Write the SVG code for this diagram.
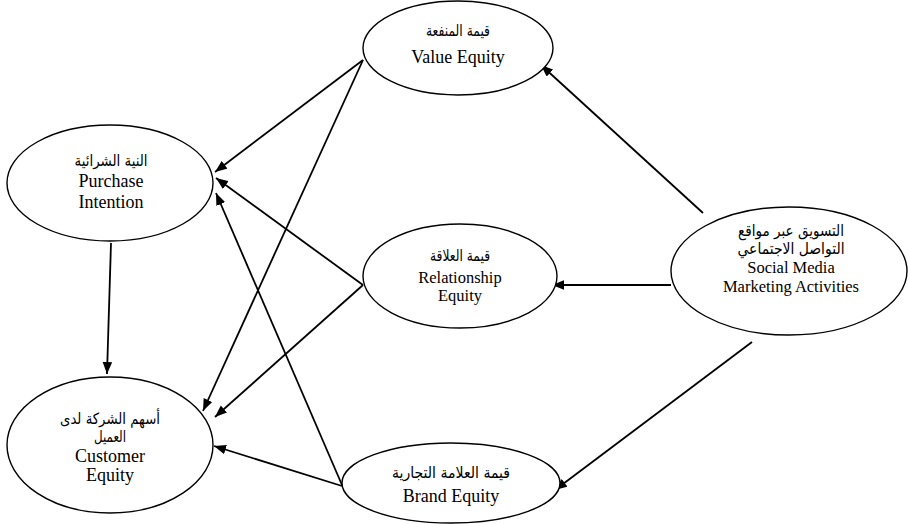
<svg xmlns="http://www.w3.org/2000/svg" width="909" height="524" viewBox="0 0 909 524">
<style>
.node ellipse{fill:#fff;stroke:#000;stroke-width:1.4}
text{font-family:"Liberation Serif","DejaVu Serif","DejaVu Sans",serif;fill:#000;text-anchor:middle}
.en{font-size:18px}
.ens{font-size:16.5px}
.ar{font-size:15.5px;font-family:"DejaVu Sans","Liberation Serif",sans-serif}
.edge{stroke:#000;stroke-width:1.8;fill:none;marker-end:url(#ah)}
</style>
<defs>
<marker id="ah" markerUnits="userSpaceOnUse" markerWidth="13" markerHeight="10" refX="12" refY="4.75" orient="auto">
<path d="M0,0 L12,4.75 L0,9.5 z" fill="#000"/>
</marker>
</defs>
<rect width="909" height="524" fill="#fff"/>
<g id="connectors">
<line class="edge" x1="363" y1="60" x2="215" y2="172"/>
<line class="edge" x1="363" y1="60" x2="203" y2="411"/>
<line class="edge" x1="363" y1="285" x2="216" y2="178"/>
<line class="edge" x1="363" y1="285" x2="215" y2="417"/>
<line class="edge" x1="342" y1="485" x2="216" y2="193"/>
<line class="edge" x1="342" y1="486" x2="214" y2="446"/>
<line class="edge" x1="111" y1="243" x2="107" y2="374"/>
<line class="edge" x1="703" y1="213" x2="541" y2="65"/>
<line class="edge" x1="671" y1="285" x2="552" y2="285"/>
<line class="edge" x1="752" y1="342" x2="555" y2="490"/>
</g>
<g id="value-equity" class="node">
<ellipse cx="458" cy="48" rx="95" ry="47"/>
<text class="ar" x="458" y="36" direction="rtl" textLength="64" lengthAdjust="spacingAndGlyphs">قيمة المنفعة</text>
<text class="en" x="458" y="63">Value Equity</text>
</g>
<g id="purchase-intention" class="node">
<ellipse cx="110" cy="183" rx="103" ry="58"/>
<text class="ar" x="111" y="166" direction="rtl" textLength="73" lengthAdjust="spacingAndGlyphs">النية الشرائية</text>
<text class="en" x="111" y="187">Purchase</text>
<text class="en" x="111" y="208">Intention</text>
</g>
<g id="relationship-equity" class="node">
<ellipse cx="460" cy="276" rx="97" ry="52"/>
<text class="ar" x="460" y="261" direction="rtl" textLength="60" lengthAdjust="spacingAndGlyphs">قيمة العلاقة</text>
<text class="ens" x="460" y="283">Relationship</text>
<text class="ens" x="460" y="301">Equity</text>
</g>
<g id="social-media" class="node">
<ellipse cx="789" cy="271" rx="118" ry="64"/>
<text class="ar" x="791" y="236" direction="rtl" textLength="106" lengthAdjust="spacingAndGlyphs">التسويق عبر مواقع</text>
<text class="ar" x="791" y="254" direction="rtl" textLength="107" lengthAdjust="spacingAndGlyphs">التواصل الاجتماعي</text>
<text class="ens" x="791" y="273">Social Media</text>
<text class="ens" x="791" y="292">Marketing Activities</text>
</g>
<g id="customer-equity" class="node">
<ellipse cx="110" cy="445" rx="103" ry="68"/>
<text class="ar" x="110" y="424" direction="rtl" textLength="100" lengthAdjust="spacingAndGlyphs">أسهم الشركة لدى</text>
<text class="ar" x="110" y="442" direction="rtl" textLength="32" lengthAdjust="spacingAndGlyphs">العميل</text>
<text class="en" x="110" y="462">Customer</text>
<text class="en" x="110" y="481">Equity</text>
</g>
<g id="brand-equity" class="node">
<ellipse cx="451" cy="483" rx="109" ry="40"/>
<text class="ar" x="451" y="478" direction="rtl" textLength="118" lengthAdjust="spacingAndGlyphs">قيمة العلامة التجارية</text>
<text class="en" x="451" y="502">Brand Equity</text>
</g>
</svg>
